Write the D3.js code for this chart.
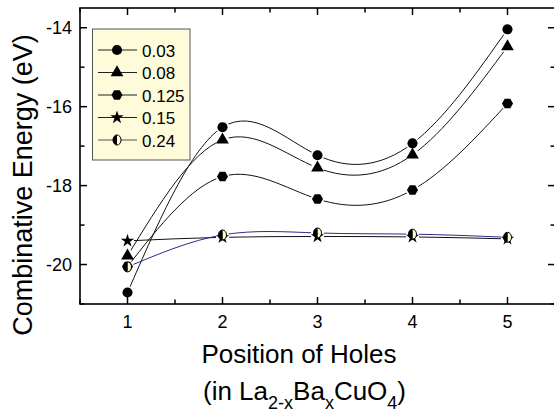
<!DOCTYPE html>
<html>
<head>
<meta charset="utf-8">
<script src="https://cdn.jsdelivr.net/npm/d3@7"></script>
<style>
  body { margin: 0; background: #fff; }
  text { font-family: "Liberation Sans", Arial, sans-serif; fill: #000; }
</style>
</head>
<body>
<svg width="554" height="413"></svg>
<script>
const positions = [1, 2, 3, 4, 5]
const seriesNames = ["0.03", "0.08", "0.125", "0.15", "0.24"]
const e003 = [-20.71, -16.52, -17.23, -16.93, -14.04]
const e008 = [-19.78, -16.84, -17.55, -17.22, -14.48]
const e0125 = [-20.05, -17.77, -18.34, -18.11, -15.92]
const e015 = [-19.40, -19.31, -19.29, -19.30, -19.35]
const e024 = [-20.06, -19.25, -19.20, -19.23, -19.31]
const yTicks = [-20, -18, -16, -14]
const xTicks = [1, 2, 3, 4, 5]

const svg = d3.select("svg")
const width = +svg.attr("width")
const height = +svg.attr("height")

const x = d3.scaleLinear().domain([0.5, 5.5]).range([80, 555])
const y = d3.scaleLinear().domain([-21, -13.5]).range([304, 8])

// custom hexagon, d3 has none
const symbolHexagon = {
  draw(context, size) {
    const r = Math.sqrt(size / (1.5 * Math.sqrt(3)))
    for (let i = 0; i < 6; i++) {
      const a = Math.PI / 3 * i + Math.PI / 6
      const px = r * Math.sin(a), py = -r * Math.cos(a)
      if (i === 0) context.moveTo(px, py)
      else context.lineTo(px, py)
    }
    context.closePath()
  }
}

const series = [
  { name: seriesNames[0], values: e003, marker: "circle", color: "#111" },
  { name: seriesNames[1], values: e008, marker: "triangle", color: "#111" },
  { name: seriesNames[2], values: e0125, marker: "hexagon", color: "#111" },
  { name: seriesNames[3], values: e015, marker: "star", color: "#111" },
  { name: seriesNames[4], values: e024, marker: "half", color: "#2b2b8c" }
]

const symbolFor = {
  circle: d3.symbol(d3.symbolCircle, 80),
  triangle: d3.symbol(d3.symbolTriangle, 70),
  hexagon: d3.symbol(symbolHexagon, 80),
  star: d3.symbol(d3.symbolStar, 55)
}

function drawMarker(sel, type) {
  if (type === "half") {
    sel.append("path")
      .attr("d", "M0,-5A4,5,0,0,1,0,5Z")
      .attr("fill", "#fffbd0")
    sel.append("path")
      .attr("d", "M0,-5A4,5,0,0,0,0,5Z")
      .attr("fill", "#000")
    sel.append("ellipse")
      .attr("rx", 4).attr("ry", 5)
      .attr("fill", "none")
      .attr("stroke", "#000")
      .attr("stroke-width", 1)
  } else {
    sel.append("path")
      .attr("d", symbolFor[type]())
      .attr("fill", "#000")
  }
}

const line = d3.line()
  .x((d, i) => x(positions[i]))
  .y(d => y(d))
  .curve(d3.curveNatural)

const defs = svg.append("defs")

// gaps of the lines around their own markers
series.forEach((s, k) => {
  const m = defs.append("mask").attr("id", "gap" + k)
    .attr("maskUnits", "userSpaceOnUse")
    .attr("x", 0).attr("y", 0).attr("width", width).attr("height", height)
  m.append("rect").attr("width", width).attr("height", height).attr("fill", "#fff")
  m.selectAll("circle").data(s.values).join("circle")
    .attr("cx", (d, i) => x(positions[i]))
    .attr("cy", d => y(d))
    .attr("r", 6.5)
    .attr("fill", "#000")
})

const plot = svg.append("g")

plot.selectAll("path.curve").data(series).join("path")
  .attr("class", "curve")
  .attr("d", d => line(d.values))
  .attr("fill", "none")
  .attr("stroke", d => d.color)
  .attr("stroke-width", 1)
  .attr("mask", (d, k) => `url(#gap${k})`)

series.forEach(s => {
  s.values.forEach((v, i) => {
    const g = plot.append("g")
      .attr("transform", `translate(${x(positions[i])},${y(v)})`)
    drawMarker(g, s.marker)
  })
})

// frame and ticks, all pointing inward
const axisG = svg.append("g")
  .attr("stroke", "#000")

const xMinor = [0.5, 1.5, 2.5, 3.5, 4.5, 5.5]
const yMinor = [-21, -19, -17, -15]

xTicks.forEach(t => {
  axisG.append("line").attr("x1", x(t)).attr("x2", x(t)).attr("y1", 304).attr("y2", 297).attr("stroke-width", 1.5)
  axisG.append("line").attr("x1", x(t)).attr("x2", x(t)).attr("y1", 8).attr("y2", 15).attr("stroke-width", 1.5)
})
xMinor.forEach(t => {
  axisG.append("line").attr("x1", x(t)).attr("x2", x(t)).attr("y1", 304).attr("y2", 299.5).attr("stroke-width", 1.5)
  axisG.append("line").attr("x1", x(t)).attr("x2", x(t)).attr("y1", 8).attr("y2", 12.5).attr("stroke-width", 1.5)
})
yTicks.forEach(t => {
  axisG.append("line").attr("x1", 80).attr("x2", 87).attr("y1", y(t)).attr("y2", y(t)).attr("stroke-width", 1.5)
  axisG.append("line").attr("x1", 555).attr("x2", 548).attr("y1", y(t)).attr("y2", y(t)).attr("stroke-width", 1.5)
})
yMinor.forEach(t => {
  axisG.append("line").attr("x1", 80).attr("x2", 84.5).attr("y1", y(t)).attr("y2", y(t)).attr("stroke-width", 1.5)
  axisG.append("line").attr("x1", 555).attr("x2", 550.5).attr("y1", y(t)).attr("y2", y(t)).attr("stroke-width", 1.5)
})

axisG.append("rect")
  .attr("x", 80).attr("y", 8)
  .attr("width", 475).attr("height", 296)
  .attr("fill", "none")
  .attr("stroke-width", 1.6)

svg.append("g").selectAll("text").data(xTicks).join("text")
  .attr("x", d => x(d))
  .attr("y", 328)
  .attr("text-anchor", "middle")
  .attr("font-size", 18)
  .text(d => d)

svg.append("g").selectAll("text").data(yTicks).join("text")
  .attr("x", 72)
  .attr("y", d => y(d) + 6.5)
  .attr("text-anchor", "end")
  .attr("font-size", 18)
  .text(d => d)

svg.append("text")
  .attr("transform", "translate(32,185) rotate(-90)")
  .attr("text-anchor", "middle")
  .attr("font-size", 27)
  .text("Combinative Energy (eV)")

svg.append("text")
  .attr("x", 299).attr("y", 363)
  .attr("text-anchor", "middle")
  .attr("font-size", 26)
  .text("Position of Holes")

const formula = svg.append("text")
  .attr("x", 203).attr("y", 400)
  .attr("font-size", 26)
formula.append("tspan").text("(in La")
formula.append("tspan").attr("font-size", 18).attr("dy", 9).text("2-x")
formula.append("tspan").attr("dy", -9).text("Ba")
formula.append("tspan").attr("font-size", 18).attr("dy", 9).text("x")
formula.append("tspan").attr("dy", -9).text("CuO")
formula.append("tspan").attr("font-size", 18).attr("dy", 9).text("4")
formula.append("tspan").attr("dy", -9).text(")")

// legend
const legend = svg.append("g")
legend.append("rect")
  .attr("x", 92.5).attr("y", 29)
  .attr("width", 97.5).attr("height", 131)
  .attr("fill", "#fdfbd9")
  .attr("stroke", "#555")
  .attr("stroke-width", 1)

series.forEach((s, k) => {
  const ly = 50 + k * 22.5
  legend.append("line")
    .attr("x1", 98).attr("x2", 137)
    .attr("y1", ly).attr("y2", ly)
    .attr("stroke", k === 4 ? "#555" : "#222")
    .attr("stroke-width", 1)
  const g = legend.append("g").attr("transform", `translate(117,${ly})`)
  drawMarker(g, s.marker)
  legend.append("text")
    .attr("x", 142).attr("y", ly + 6.5)
    .attr("font-size", 17)
    .text(s.name)
})
</script>
</body>
</html>
